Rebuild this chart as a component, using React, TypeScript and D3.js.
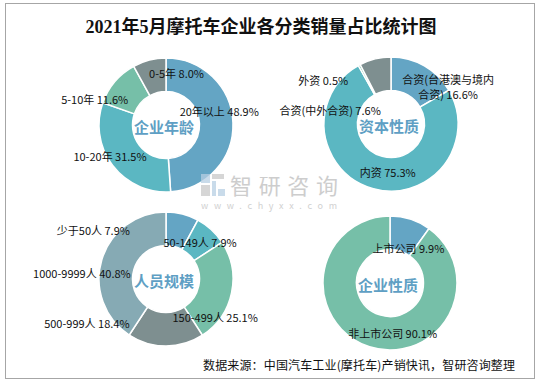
import * as d3 from "d3";

// 企业年龄
const ageNames = ["20年以上", "10-20年", "5-10年", "0-5年"];
const ageValues = [48.9, 31.5, 11.6, 8.0];
// 资本性质
const capitalNames = ["合资(台港澳与境内合资)", "内资", "外资", "合资(中外合资)"];
const capitalValues = [16.6, 75.3, 0.5, 7.6];
// 人员规模
const staffNames = ["少于50人", "50-149人", "150-499人", "500-999人", "1000-9999人"];
const staffValues = [7.9, 7.9, 25.1, 18.4, 40.8];
// 企业性质
const typeNames = ["上市公司", "非上市公司"];
const typeValues = [9.9, 90.1];

const W = 538;
const H = 385;
const palette = ["#64a5c4", "#5bb7c2", "#76bfa8", "#7e8f90", "#86aab4"];
const font = "'Noto Sans CJK SC', 'Noto Sans', sans-serif";

const R = 67;
const r0 = 33.5;

const panels = [
  { title: "企业年龄", names: ageNames, values: ageValues, cx: 166, cy: 125, colors: [0, 1, 2, 3],
    nudge: [[3, -12], [-16, 1], [-33, 6], [23, -3]] },
  { title: "资本性质", names: capitalNames, values: capitalValues, cx: 391, cy: 124, colors: [0, 1, 2, 3],
    nudge: [[32, 6], [10, 0], [-44, 0], [-49, 35]] },
  { title: "人员规模", names: staffNames, values: staffValues, cx: 166, cy: 279, colors: [0, 1, 2, 3, 4],
    nudge: [[-85, 0], [0, 0], [0, 28], [-79, -6], [-36, 8]] },
  { title: "企业性质", names: typeNames, values: typeValues, cx: 390, cy: 283, colors: [0, 2],
    nudge: [[3, 13], [18, 2]] },
];

const pie = d3.pie<number>().sort(null).value((d) => d);
const arc = d3.arc<d3.PieArcDatum<number>>().innerRadius(r0).outerRadius(R);

function labelLines(name: string, v: number) {
  const s = `${name} ${v.toFixed(1)}%`;
  // long labels wrap onto two lines, like the source chart
  if (s.length > 17) return [s.slice(0, 9), s.slice(9)];
  return [s];
}

function Donut({ p }: { p: (typeof panels)[number] }) {
  const arcs = pie(p.values);
  return (
    <g transform={`translate(${p.cx},${p.cy})`}>
      {arcs.map((a, i) => (
        <path key={i} d={arc(a) ?? ""} fill={palette[p.colors[i]]} stroke="#fff" strokeWidth={1.5} />
      ))}
      <text
        x={-2}
        y={1}
        textAnchor="middle"
        dominantBaseline="central"
        fontFamily={font}
        fontWeight="bold"
        fontSize={15}
        fill="#5f9fc4"
      >
        {p.title}
      </text>
      {arcs.map((a, i) => {
        const [x, y] = arc.centroid(a);
        const lx = x + p.nudge[i][0];
        const ly = y + p.nudge[i][1];
        const lines = labelLines(p.names[i], p.values[i]);
        const top = ly - ((lines.length - 1) * 15) / 2;
        return (
          <text key={"l" + i} textAnchor="middle" fontFamily={font} fontSize={11} fill="#111">
            {lines.map((t, k) => (
              <tspan key={k} x={lx} y={top + k * 15} dominantBaseline="central">
                {t}
              </tspan>
            ))}
          </text>
        );
      })}
    </g>
  );
}

export default function App() {
  return (
    <svg
      width={W}
      height={H}
      style={{ position: "absolute", left: 0, top: 0, background: "#fff" }}
    >
      <rect x={5.5} y={3.5} width={529} height={375} fill="#fff" stroke="#a6a6a6" />
      <text
        x={261}
        y={33}
        textAnchor="middle"
        fontFamily="'Liberation Serif', 'Noto Sans CJK SC', serif"
        fontWeight="bold"
        fontSize={18}
        fill="#111"
      >
        2021年5月摩托车企业各分类销量占比统计图
      </text>
      {panels.map((p) => (
        <Donut key={p.title} p={p} />
      ))}
      {/* watermark */}
      <g opacity={0.75}>
        <rect x={201} y={174} width={9} height={9} fill="#b7cfe3" />
        <rect x={212} y={174} width={12} height={5} fill="#c9c9c9" />
        <rect x={201} y={185} width={9} height={11} fill="#c9c9c9" />
        <rect x={212} y={181} width={4} height={15} fill="#b7cfe3" />
        <rect x={218} y={189} width={7} height={7} fill="#b7cfe3" />
        <text x={230} y={194} fontFamily={font} fontSize={22} fill="#bdbdbd" textLength={108}>
          智研咨询
        </text>
        <text x={201} y={209} fontFamily={font} fontSize={9} fill="#c2c2c2" textLength={136}>
          www.chyxx.com
        </text>
      </g>
      <text x={203} y={370} fontFamily={font} fontSize={12} fill="#111" textLength={312}>
        数据来源：中国汽车工业(摩托车)产销快讯，智研咨询整理
      </text>
    </svg>
  );
}
